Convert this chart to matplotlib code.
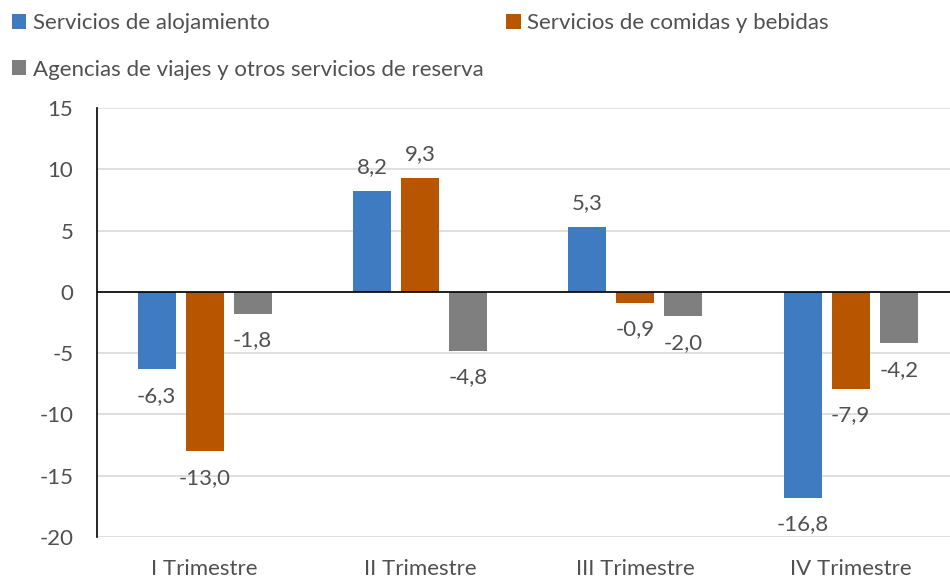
import matplotlib
matplotlib.use("Agg")
import matplotlib.pyplot as plt
import numpy as np

categories = ["I Trimestre", "II Trimestre", "III Trimestre", "IV Trimestre"]
series_names = ["Servicios de alojamiento", "Servicios de comidas y bebidas",
                "Agencias de viajes y otros servicios de reserva"]
alojamiento = [-6.3, 8.2, 5.3, -16.8]
comidas = [-13.0, 9.3, -0.9, -7.9]
agencias = [-1.8, -4.8, -2.0, -4.2]
yticks = [15, 10, 5, 0, -5, -10, -15, -20]

colors = ["#3E7BC0", "#B85500", "#7F7F7F"]
text_color = "#505050"
plt.rcParams['font.family'] = ['Lato', 'DejaVu Sans']
FS = 16

fig = plt.figure(figsize=(9.5, 5.79), dpi=100)
ax = fig.add_axes([97/950, 1-537/579, 861.4/950, (537-108)/579])

x = np.arange(len(categories))
width = 0.176
offset = 0.223
series = [alojamiento, comidas, agencias]
handles = []
for i, (vals, c) in enumerate(zip(series, colors)):
    bars = ax.bar(x + (i-1)*offset, vals, width, color=c, zorder=3, label=series_names[i])
    handles.append(bars)
    for b, v in zip(bars, vals):
        lab = f"{v:.1f}".replace(".", ",")
        if v >= 0:
            ax.annotate(lab, (b.get_x()+b.get_width()/2, v), xytext=(0, 10),
                        textcoords="offset points", ha="center", va="bottom",
                        fontsize=FS, color=text_color)
        else:
            ax.annotate(lab, (b.get_x()+b.get_width()/2, v), xytext=(0, -12),
                        textcoords="offset points", ha="center", va="top",
                        fontsize=FS, color=text_color)

ax.set_xlim(-0.5, len(categories)-0.5)
ax.set_ylim(-20, 15)
ax.set_yticks(yticks)
ax.set_yticklabels([str(t) for t in yticks], fontsize=FS, color=text_color)
ax.set_xticks(x)
ax.set_xticklabels(categories, fontsize=FS, color=text_color)
ax.tick_params(axis="both", length=0)
ax.tick_params(axis="x", pad=16)
ax.tick_params(axis="y", pad=17)
ax.yaxis.grid(True, color="#D9D9D9", linewidth=1.2, zorder=0)
for s in ["top", "right", "bottom"]:
    ax.spines[s].set_visible(False)
ax.spines["left"].set_color("#000000")
ax.spines["left"].set_linewidth(1.2)
ax.axhline(0, color="#000000", linewidth=1.2, zorder=4)

leg = fig.legend([handles[0], handles[2], handles[1]],
                 [series_names[0], series_names[2], series_names[1]],
                 ncol=2, loc="upper left", bbox_to_anchor=(12/950, 1-13/579),
                 frameon=False, fontsize=FS, handlelength=0.65, handleheight=0.65,
                 handletextpad=0.3, columnspacing=1.0, labelspacing=1.2,
                 borderaxespad=0, borderpad=0)
for t in leg.get_texts():
    t.set_color(text_color)

fig.savefig("out.png", dpi=100)
